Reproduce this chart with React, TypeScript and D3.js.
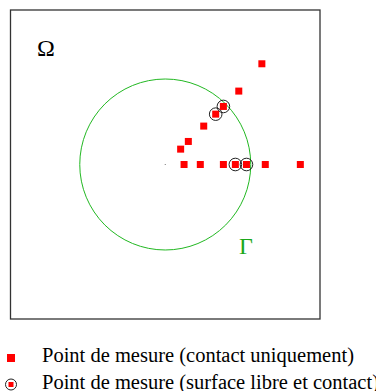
import React from "react";
import * as d3 from "d3";

// points de mesure (coordonnées normalisées, rayon de Γ = 1)
const contactX = [0.22, 0.41, 0.68, 1.17, 1.58, 0.18, 0.27, 0.45, 0.86, 1.13];
const contactY = [0, 0, 0, 0, 0, 0.18, 0.27, 0.45, 0.86, 1.18];
const bothX = [0.82, 0.95, 0.59, 0.68];
const bothY = [0, 0, 0.59, 0.68];
const gammaRadius = 1;
const legendLabels = [
	"Point de mesure (contact uniquement)",
	"Point de mesure (surface libre et contact)",
];

const W = 376;
const H = 391;
const box = { left: 10.5, top: 10, right: 320, bottom: 319 };
const serif = { fontFamily: "Liberation Serif, Times New Roman, serif" };

const App: React.FC = () => {
	const x = d3.scaleLinear().domain([-1.81, 1.81]).range([box.left, box.right]);
	const y = d3.scaleLinear().domain([-1.81, 1.81]).range([box.bottom, box.top]);
	const r = x(gammaRadius) - x(0);
	const sq = 7;

	return (
		<svg
			width={W}
			height={H}
			style={{ position: "absolute", left: 0, top: 0, background: "#fff" }}
		>
			<rect
				x={box.left}
				y={box.top}
				width={box.right - box.left}
				height={box.bottom - box.top}
				fill="none"
				stroke="#333"
				strokeWidth={1.3}
			/>
			<circle cx={x(0)} cy={y(0)} r={r} fill="none" stroke="#22b822" strokeWidth={1} />
			<rect x={x(0) - 0.5} y={y(0) - 0.5} width={1} height={1} fill="#777" />
			{contactX.map((d, i) => (
				<rect
					key={"c" + i}
					x={x(d) - sq / 2}
					y={y(contactY[i]) - sq / 2}
					width={sq}
					height={sq}
					fill="#ff0000"
				/>
			))}
			{bothX.map((d, i) => (
				<g key={"b" + i}>
					<rect
						x={x(d) - sq / 2}
						y={y(bothY[i]) - sq / 2}
						width={sq}
						height={sq}
						fill="#ff0000"
					/>
					<circle cx={x(d)} cy={y(bothY[i])} r={6.3} fill="none" stroke="#222" strokeWidth={1} />
				</g>
			))}
			<text x={46} y={56} style={serif} fontSize={24} textAnchor="middle" fill="#000">
				Ω
			</text>
			<text x={246} y={254} style={serif} fontSize={24} textAnchor="middle" fill="#1aa81a">
				Γ
			</text>

			{/* légende */}
			<rect x={7} y={354} width={8} height={8} fill="#ff0000" />
			<text x={42} y={362} style={serif} fontSize={20.5} fill="#000">
				{legendLabels[0]}
			</text>
			<circle cx={11} cy={384.5} r={5.5} fill="none" stroke="#222" strokeWidth={1} />
			<rect x={8.5} y={382} width={5} height={5} fill="#ff0000" />
			<text x={42} y={389} style={serif} fontSize={20.5} fill="#000">
				{legendLabels[1]}
			</text>
		</svg>
	);
};

export default App;
